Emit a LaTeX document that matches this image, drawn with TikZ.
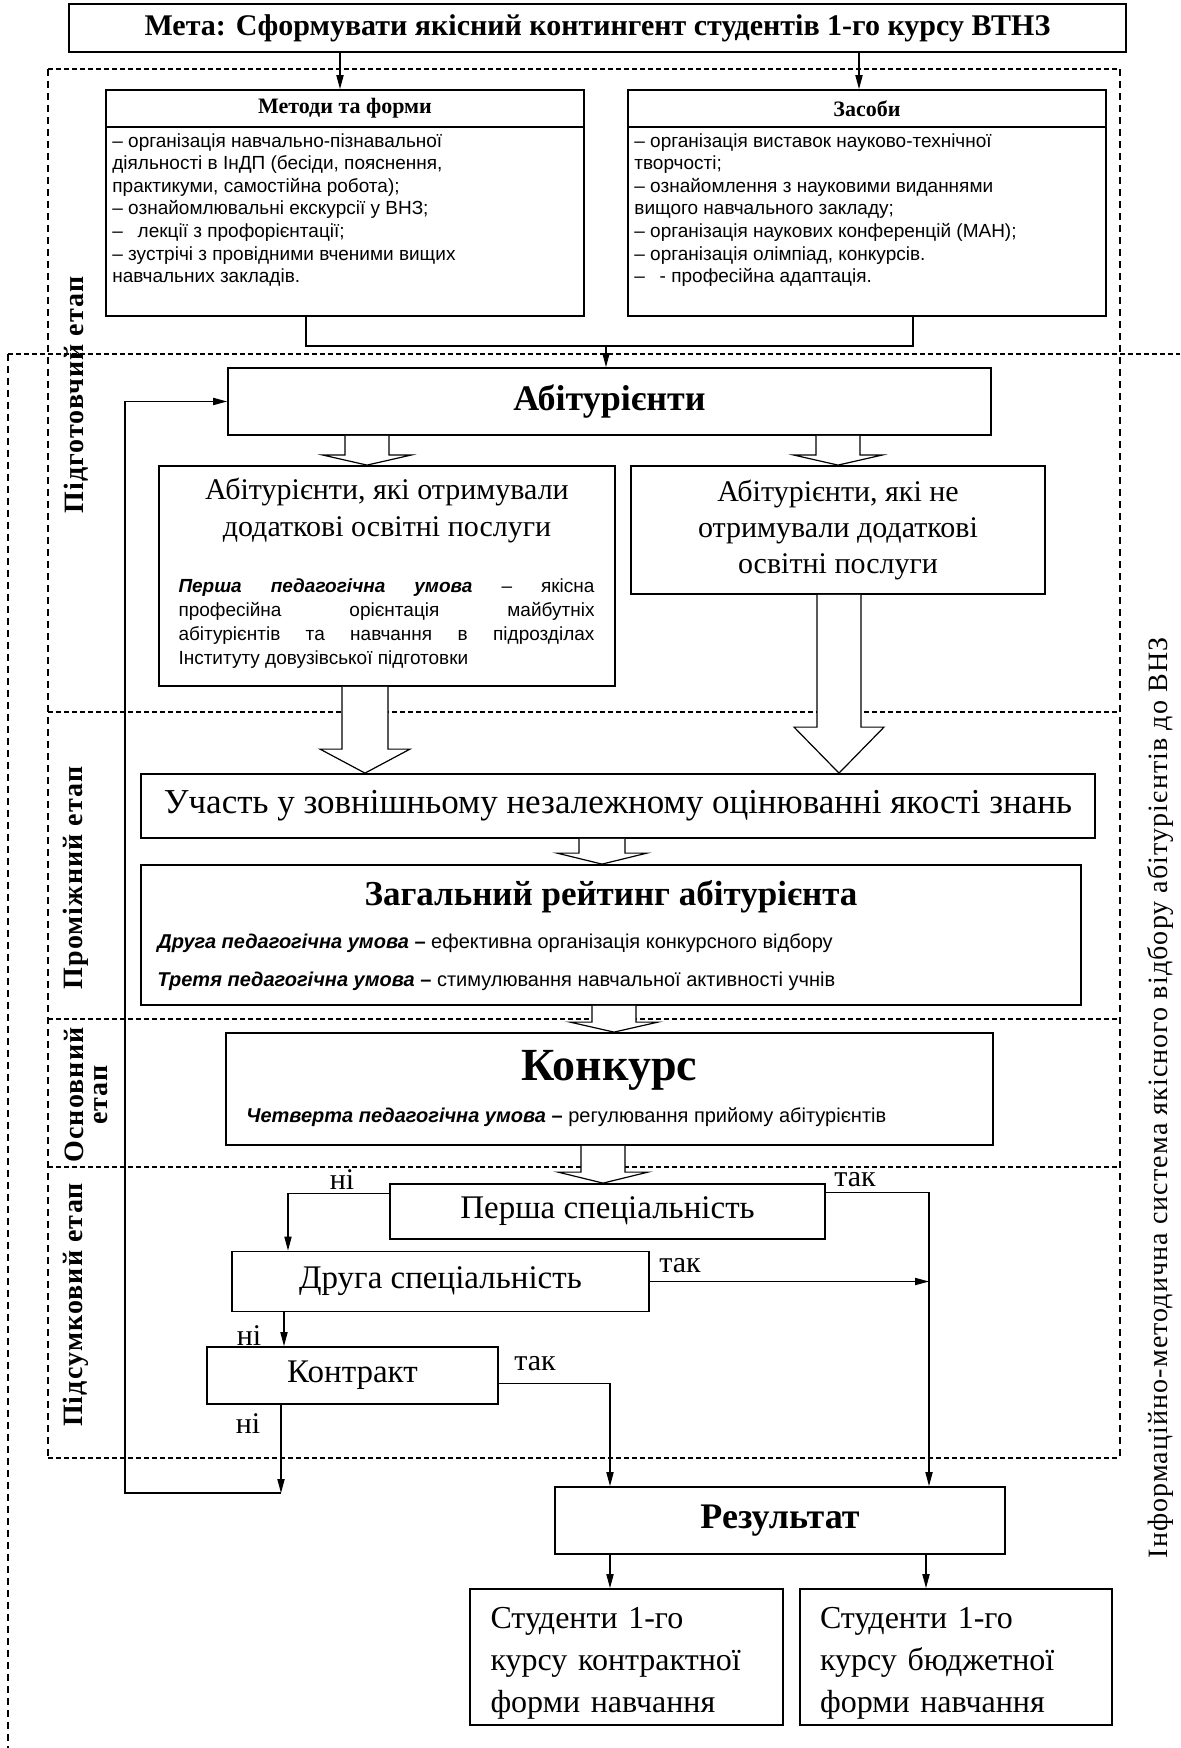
\documentclass[tikz,border=0pt]{standalone}
\usepackage{fontspec}
\setmainfont{Liberation Serif}
\setsansfont{Liberation Sans}
\usetikzlibrary{calc}
\usetikzlibrary{arrows.meta}

\tikzset{
  box/.style={draw, line width=0.9pt, inner sep=0pt},
  lst/.style={anchor=north west, align=left, inner sep=0pt, font=\sffamily\fontsize{9.5}{11.3}\selectfont},
  cond/.style={anchor=west, inner sep=0pt, font=\sffamily\fontsize{10}{12}\selectfont},
  yesno/.style={inner sep=0pt, font=\fontsize{15}{15}\selectfont},
  stagelbl/.style={rotate=90, align=center, inner sep=0pt, font=\fontsize{14}{12}\selectfont\bfseries\addfontfeatures{LetterSpace=4}},
  hdash/.style={line width=0.7pt, dash pattern=on 2.5pt off 1.5pt},
  vdash/.style={line width=0.6pt, dash pattern=on 3.5pt off 2.5pt},
  conn/.style={line width=0.6pt},
}

% hollow block arrow: x, from node, to node, head length, shaft half, head half
\newcommand{\hollowarrow}[6]{%
  \path (#1,0 |- #2.south) coordinate (ha) (#1,0 |- #3.north) coordinate (hb);
  \draw[line width=0.6pt, fill=white] ($(ha)+(-#5,0)$) -- ($(hb)+(-#5,-#4)$) -- ($(hb)+(-#6,-#4)$) -- (hb) -- ($(hb)+(#6,-#4)$) -- ($(hb)+(#5,-#4)$) -- ($(ha)+(#5,0)$);}

\begin{document}
\begin{tikzpicture}[x=0.5pt, y=-0.5pt, >={Triangle[length=7pt,width=3.6pt]}]
\useasboundingbox (0,0) rectangle (1180,1748);

% stage frames
\draw[hdash] (48,69) -- (1120,69);
\draw[hdash] (48,712) -- (1120,712);
\draw[hdash] (48,1019) -- (1120,1019);
\draw[hdash] (48,1167) -- (1120,1167);
\draw[hdash] (48,1458) -- (1120,1458);
\draw[vdash] (48,69) -- (48,1458);
\draw[vdash] (1120,69) -- (1120,1458);
% outer frame
\draw[hdash] (8,354) -- (1180,354);
\draw[vdash] (8,354) -- (8,1748);

\node (meta) at (597.5,28) [box, minimum width=528.5pt, minimum height=24pt, font=\fontsize{15}{15}\selectfont\bfseries] {Мета: Сформувати якісний контингент студентів 1-го курсу ВТНЗ};

\node (methods) at (345,203) [box, minimum width=239pt, minimum height=113pt] {};
\node (methodsH) at (methods.north) [box, anchor=north, minimum width=239pt, minimum height=18.5pt, font=\fontsize{11}{11}\selectfont\bfseries] {Методи та форми};
\node (methodsL) at (112,133) [lst] {– організація навчально-пізнавальної\\діяльності в ІнДП (бесіди, пояснення,\\практикуми, самостійна робота);\\– ознайомлювальні екскурсії у ВНЗ;\\–\enspace\ лекції з профорієнтації;\\– зустрічі з провідними вченими вищих\\навчальних закладів.};

\node (zasoby) at (867,203) [box, minimum width=239pt, minimum height=113pt] {};
\node (zasobyH) at (zasoby.north) [box, anchor=north, minimum width=239pt, minimum height=18.5pt, font=\fontsize{11}{11}\selectfont\bfseries] {Засоби};
\node (zasobyL) at (634,133) [lst] {– організація виставок науково-технічної\\творчості;\\– ознайомлення з науковими виданнями\\вищого навчального закладу;\\– організація наукових конференцій (МАН);\\– організація олімпіад, конкурсів.\\–\enspace\ - професійна адаптація.};

\node (abit) at (609.5,401.5) [box, minimum width=381.5pt, minimum height=33.5pt, font=\fontsize{18}{18}\selectfont\bfseries] {Абітурієнти};

\node (got) at (387,576) [box, minimum width=228pt, minimum height=110pt] {};
\node (gotT) at (387,511) [align=center, inner sep=0pt, font=\fontsize{15}{18.5}\selectfont] {Абітурієнти, які отримували\\додаткові освітні послуги};
\node (gotU) at (386.5,624) [text width=208pt, align=justify, inner sep=0pt, font=\sffamily\fontsize{9.5}{12}\selectfont] {\textbf{\textit{Перша педагогічна умова}} – якісна\linebreak професійна орієнтація майбутніх\linebreak абітурієнтів та навчання в підрозділах\linebreak Інституту довузівської підготовки};

\node (ne) at (838,530) [box, minimum width=207pt, minimum height=64pt, align=center, font=\fontsize{15}{18}\selectfont] {Абітурієнти, які не\\отримували додаткові\\освітні послуги};

\node (zno) at (618,806) [box, minimum width=477pt, minimum height=32pt, font=\fontsize{17.5}{17.5}\selectfont] {Участь у зовнішньому незалежному оцінюванні якості знань};

\node (rating) at (611,935) [box, minimum width=470pt, minimum height=70pt] {};
\node (ratingT) at (611,897) [inner sep=0pt, font=\fontsize{17.5}{17.5}\selectfont\bfseries] {Загальний рейтинг абітурієнта};
\node (cond2) at (157,943) [cond] {\textbf{\textit{Друга педагогічна умова}} \textbf{–} ефективна організація конкурсного відбору};
\node (cond3) at (157,981) [cond] {\textbf{\textit{Третя педагогічна умова}} \textbf{–} стимулювання навчальної активності учнів};

\node (konk) at (609.5,1089) [box, minimum width=383.5pt, minimum height=56pt] {};
\node (konkT) at (609.5,1070) [inner sep=0pt, font=\fontsize{23}{23}\selectfont\bfseries] {Конкурс};
\node (cond4) at (246,1117) [cond] {\textbf{\textit{Четверта педагогічна умова}} \textbf{–} регулювання прийому абітурієнтів};

\node (persha) at (607.5,1211.5) [box, minimum width=217.5pt, minimum height=27.5pt, font=\fontsize{16.5}{16.5}\selectfont] {Перша спеціальність};
\node (druha) at (440.5,1281.5) [box, minimum width=208.5pt, minimum height=30pt, font=\fontsize{16.5}{16.5}\selectfont] {Друга спеціальність};
\node (kontr) at (352.5,1375.5) [box, minimum width=145.5pt, minimum height=28.5pt, font=\fontsize{16.5}{16.5}\selectfont] {Контракт};
\node (rezult) at (780,1520.5) [box, minimum width=225pt, minimum height=33.5pt, font=\fontsize{18}{18}\selectfont\bfseries] {Результат};

\node (studk) at (626.5,1657) [box, minimum width=156.5pt, minimum height=68pt, text width=136pt, inner xsep=10pt, align=left, font=\fontsize{16}{21}\selectfont] {\rule{0pt}{17pt}Студенти 1-го\\курсу контрактної\\форми навчання};
\node (studb) at (956,1657) [box, minimum width=156pt, minimum height=68pt, text width=136pt, inner xsep=10pt, align=left, font=\fontsize{16}{21}\selectfont] {\rule{0pt}{17pt}Студенти 1-го\\курсу бюджетної\\форми навчання};

\node (ni1) at (342,1180) [yesno] {ні};
\node (tak1) at (855,1180) [yesno] {так};
\node (tak2) at (680,1266) [yesno] {так};
\node (ni2) at (249,1336) [yesno] {ні};
\node (tak3) at (535,1364) [yesno] {так};
\node (ni3) at (248,1424) [yesno] {ні};

\node (st1) at (76,395) [stagelbl] {Підготовчий етап};
\node (st2) at (76,878) [stagelbl] {Проміжний етап};
\node (st3) at (86,1095) [stagelbl] {Основний\\етап};
\node (st4) at (76,1305) [stagelbl] {Підсумковий етап};
\node (sys) at (1160,1098) [rotate=90, inner sep=0pt, font=\fontsize{14}{14}\selectfont\addfontfeatures{LetterSpace=4}] {Інформаційно-методична система якісного відбору абітурієнтів до ВНЗ};

% connectors
\draw[->, conn] (340,0 |- meta.south) -- (340,0 |- methods.north);
\draw[->, conn] (859,0 |- meta.south) -- (859,0 |- zasoby.north);
\coordinate (join) at (606,346);
\draw[conn] (306,0 |- methods.south) |- (join) -| (913,0 |- zasoby.south);
\draw[->, conn] (join) -- (join |- abit.north);

\hollowarrow{367}{abit}{got}{10}{22}{44}
\hollowarrow{838}{abit}{ne}{10}{22}{44}
\hollowarrow{365}{got}{zno}{24}{23}{45}
\hollowarrow{839}{ne}{zno}{46}{22}{45}
\hollowarrow{602}{zno}{rating}{11}{23}{45}
\hollowarrow{614}{rating}{konk}{10}{22}{44}
\hollowarrow{603}{konk}{persha}{11}{22}{45}

\draw[->, conn] ($(persha.north west)+(0,10)$) -| (druha.north -| 288,0);
\draw[->, conn] ($(persha.north east)+(0,9)$) -| (rezult.north -| 929,0);
\draw[->, conn] (druha.east) -- (druha.east -| 929,0);
\draw[->, conn] (druha.south -| 284,0) -- (kontr.north -| 284,0);
\draw[->, conn] ($(kontr.east)+(0,8)$) -| (rezult.north -| 610,0);
\coordinate (back) at (281,1493);
\draw[->, conn] (kontr.south -| 281,0) -- (back);
\draw[->, conn] (back) -- (125,1493) |- (abit.west);
\draw[->, conn] (rezult.south -| 610,0) -- (studk.north -| 610,0);
\draw[->, conn] (rezult.south -| 926,0) -- (studb.north -| 926,0);
\end{tikzpicture}
\end{document}
